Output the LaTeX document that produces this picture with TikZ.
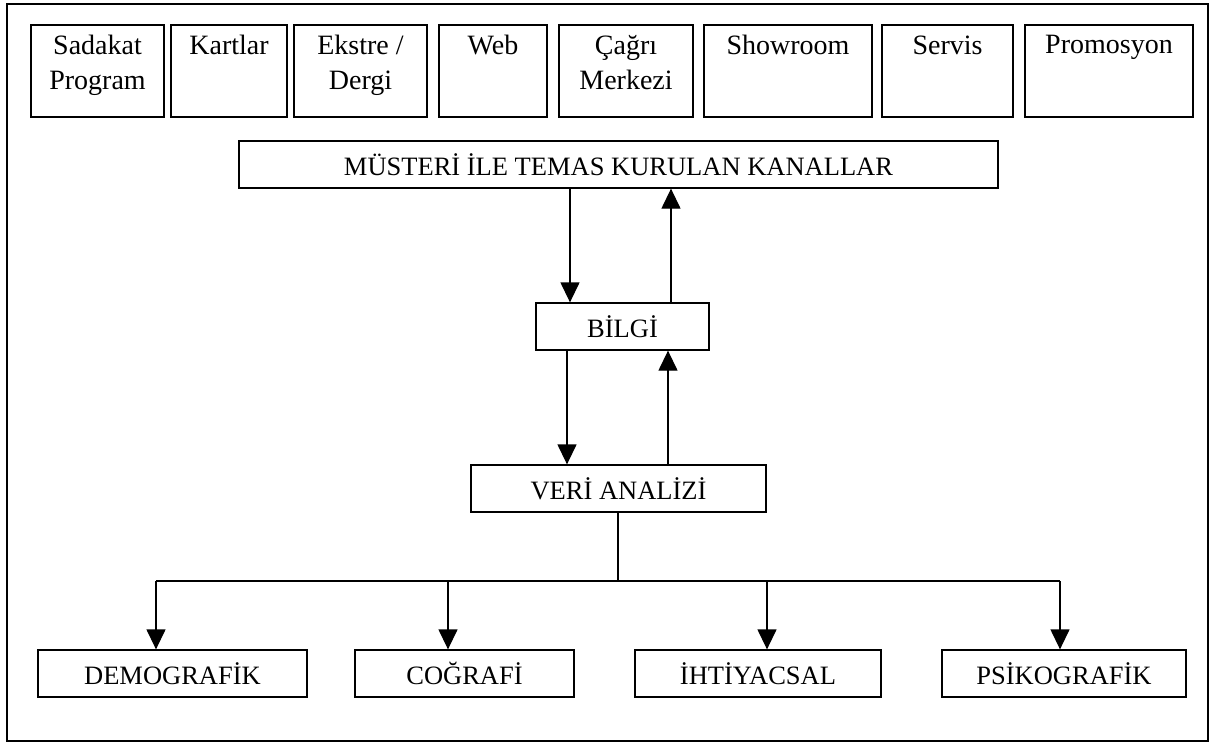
\documentclass[tikz,border=0pt]{standalone}
\usepackage{fontspec}
\setmainfont{Liberation Serif}
\usetikzlibrary{arrows.meta}
\begin{document}
\begin{tikzpicture}[x=1pt,y=-1pt,
  box/.style={draw, line width=1.3pt, inner sep=0pt},
  topbox/.style={box, minimum height=92pt},
  lbl/.style={font=\fontsize{28}{35}\selectfont, align=center, inner sep=0pt, anchor=north},
  midbox/.style={box, font=\fontsize{26.5}{32}\selectfont, minimum height=47pt},
  arr/.style={line width=1.3pt, -{Triangle[length=20pt,width=19pt]}},
  ln/.style={line width=1.3pt}]
\useasboundingbox (0,0) rectangle (1213,745);
\draw[line width=1.6pt] (7,4) rectangle (1208,741);

% top channel boxes
\node[topbox, minimum width=133pt] (k1) at (97.5,71) {};
\node[lbl] (t1) at ([yshift=-11pt]k1.north) {Sadakat\\Program};
\node[topbox, minimum width=116pt] (k2) at (229,71) {};
\node[lbl] (t2) at ([yshift=-11pt]k2.north) {Kartlar};
\node[topbox, minimum width=133pt] (k3) at (360.5,71) {};
\node[lbl] (t3) at ([yshift=-11pt]k3.north) {Ekstre /\\Dergi};
\node[topbox, minimum width=108pt] (k4) at (493,71) {};
\node[lbl] (t4) at ([yshift=-11pt]k4.north) {Web};
\node[topbox, minimum width=134pt] (k5) at (626,71) {};
\node[lbl] (t5) at ([yshift=-11pt]k5.north) {Çağrı\\Merkezi};
\node[topbox, minimum width=168pt] (k6) at (788,71) {};
\node[lbl] (t6) at ([yshift=-11pt]k6.north) {Showroom};
\node[topbox, minimum width=131pt] (k7) at (947.5,71) {};
\node[lbl] (t7) at ([yshift=-11pt]k7.north) {Servis};
\node[topbox, minimum width=168pt] (k8) at (1109,71) {};
\node[lbl] (t8) at ([yshift=-11pt]k8.north) {Promosyon};

% main flow
\node[midbox, minimum width=759pt] (mus) at (618.5,164.5) {MÜSTERİ İLE TEMAS KURULAN KANALLAR};
\node[midbox, minimum width=173pt] (bilgi) at (622.5,326.5) {BİLGİ};
\node[midbox, minimum width=295pt] (veri) at (618.5,488.5) {VERİ ANALİZİ};

\node[midbox, minimum width=269pt] (demo) at (172.5,673.5) {DEMOGRAFİK};
\node[midbox, minimum width=219pt] (cog) at (464.5,673.5) {COĞRAFİ};
\node[midbox, minimum width=246pt] (iht) at (758,673.5) {İHTİYACSAL};
\node[midbox, minimum width=244pt] (psi) at (1064,673.5) {PSİKOGRAFİK};

\coordinate (xa) at (570,0);
\coordinate (xb) at (671,0);
\coordinate (xc) at (567,0);
\coordinate (xd) at (668,0);
\coordinate (xs) at (618,0);
\coordinate (bus) at (0,581);
\coordinate (a1) at (156,0);
\coordinate (a2) at (448,0);
\coordinate (a3) at (767,0);
\coordinate (a4) at (1060,0);

\draw[arr] (mus.south -| xa) -- (bilgi.north -| xa);
\draw[arr] (bilgi.north -| xb) -- (mus.south -| xb);
\draw[arr] (bilgi.south -| xc) -- (veri.north -| xc);
\draw[arr] (veri.north -| xd) -- (bilgi.south -| xd);

\draw[ln] (veri.south -| xs) -- (bus -| xs);
\draw[ln] (bus -| a1) -- (bus -| a4);
\foreach \p/\q in {a1/demo,a2/cog,a3/iht,a4/psi}
  \draw[arr] (bus -| \p) -- (\q.north -| \p);
\end{tikzpicture}
\end{document}
